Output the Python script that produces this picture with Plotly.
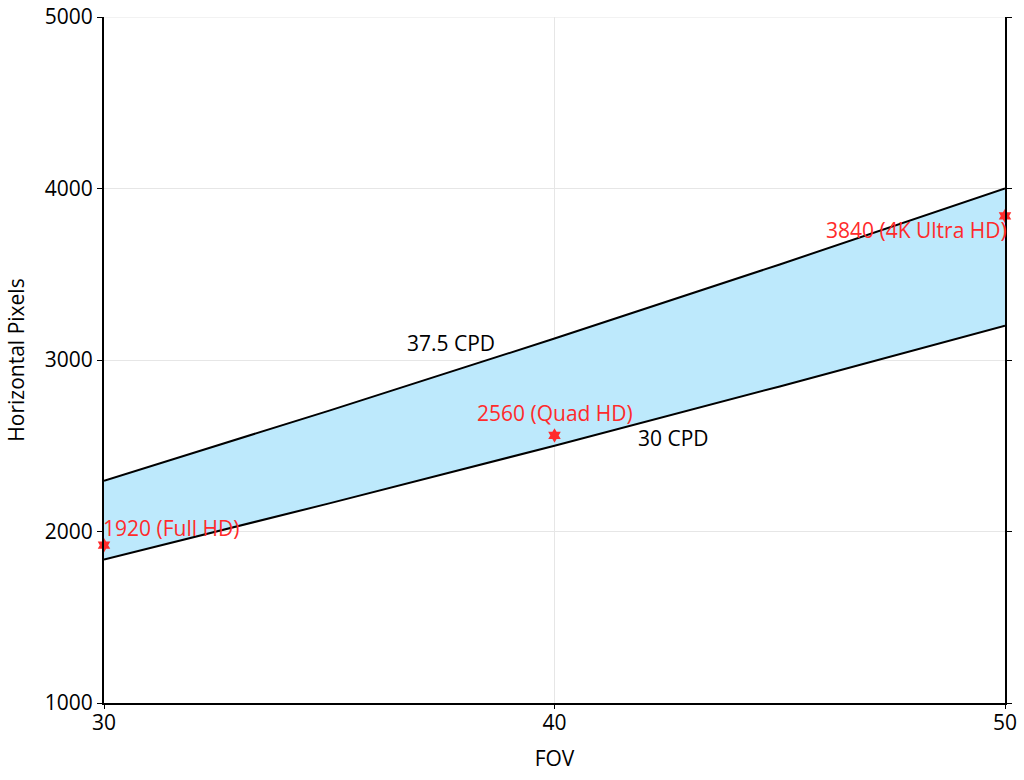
import plotly.graph_objects as go

# FOV (degrees) and horizontal pixel counts
fov = [30, 35, 40, 45, 50]
cpd_30 = [1837, 2164, 2500, 2846, 3200]
cpd_375 = [2296, 2705, 3125, 3557, 4000]

# standard display resolutions
res_fov = [30, 40, 50]
res_pixels = [1920, 2560, 3840]
res_labels = ["1920 (Full HD)", "2560 (Quad HD)", "3840 (4K Ultra HD)"]

FONT = "Open Sans, Lato, DejaVu Sans, sans-serif"
RED = "#FF2B2B"

fig = go.Figure()

fig.add_trace(go.Scatter(
    x=fov, y=cpd_30, mode="lines",
    line=dict(color="black", width=2),
    showlegend=False, hoverinfo="skip"
))
fig.add_trace(go.Scatter(
    x=fov, y=cpd_375, mode="lines",
    line=dict(color="black", width=2),
    fill="tonexty", fillcolor="#BDE9FC",
    showlegend=False, hoverinfo="skip"
))
fig.add_trace(go.Scatter(
    x=res_fov, y=res_pixels, mode="markers",
    marker=dict(symbol="hexagram", size=11, color=RED, line=dict(width=0)),
    showlegend=False, cliponaxis=False
))

# top gridline (plotly skips the one on the range edge)
fig.add_shape(type="line", xref="paper", x0=0, x1=1, yref="y", y0=5000, y1=5000,
              line=dict(color="#E6E6E6", width=1), layer="below")

# resolution labels
fig.add_annotation(x=res_fov[0], y=2020, text=res_labels[0], showarrow=False,
                   xanchor="left", yanchor="middle", xshift=-3,
                   font=dict(color=RED, size=21, family=FONT))
fig.add_annotation(x=res_fov[1], y=2690, text=res_labels[1], showarrow=False,
                   xanchor="center", yanchor="middle",
                   font=dict(color=RED, size=21, family=FONT))
fig.add_annotation(x=res_fov[2], y=3760, text=res_labels[2], showarrow=False,
                   xanchor="right", yanchor="middle", xshift=4,
                   font=dict(color=RED, size=21, family=FONT))

# line labels
fig.add_annotation(x=37.7, y=3100, text="37.5 CPD", showarrow=False,
                   font=dict(color="black", size=21, family=FONT))
fig.add_annotation(x=42.65, y=2548, text="30 CPD", showarrow=False,
                   font=dict(color="black", size=21, family=FONT))

fig.update_xaxes(
    range=[30, 50], tickvals=[30, 40, 50],
    showline=True, linecolor="black", linewidth=2,
    ticks="outside", ticklen=4, tickcolor="black",
    ticklabelstandoff=-4,
    showgrid=True, gridcolor="#E6E6E6", gridwidth=1,
    zeroline=False, automargin=False,
    title=dict(text="FOV", font=dict(size=21, family=FONT, color="black"), standoff=16),
    tickfont=dict(size=21, family=FONT, color="black")
)
fig.update_yaxes(
    range=[1000, 5000], tickvals=[1000, 2000, 3000, 4000, 5000],
    showline=True, linecolor="black", linewidth=2, mirror="ticks",
    ticks="outside", ticklen=5, tickcolor="black",
    showgrid=True, gridcolor="#E6E6E6", gridwidth=1,
    zeroline=False, automargin=False,
    title=dict(text="Horizontal Pixels", font=dict(size=21, family=FONT, color="black"), standoff=14),
    tickfont=dict(size=21, family=FONT, color="black")
)

fig.update_layout(
    width=1024, height=780,
    margin=dict(l=104, r=19, t=17, b=77),
    plot_bgcolor="white", paper_bgcolor="white",
    font=dict(family=FONT, color="black")
)

fig.write_html("out.html", config={"displayModeBar": False},
               post_script="document.body.style.margin='0';")
